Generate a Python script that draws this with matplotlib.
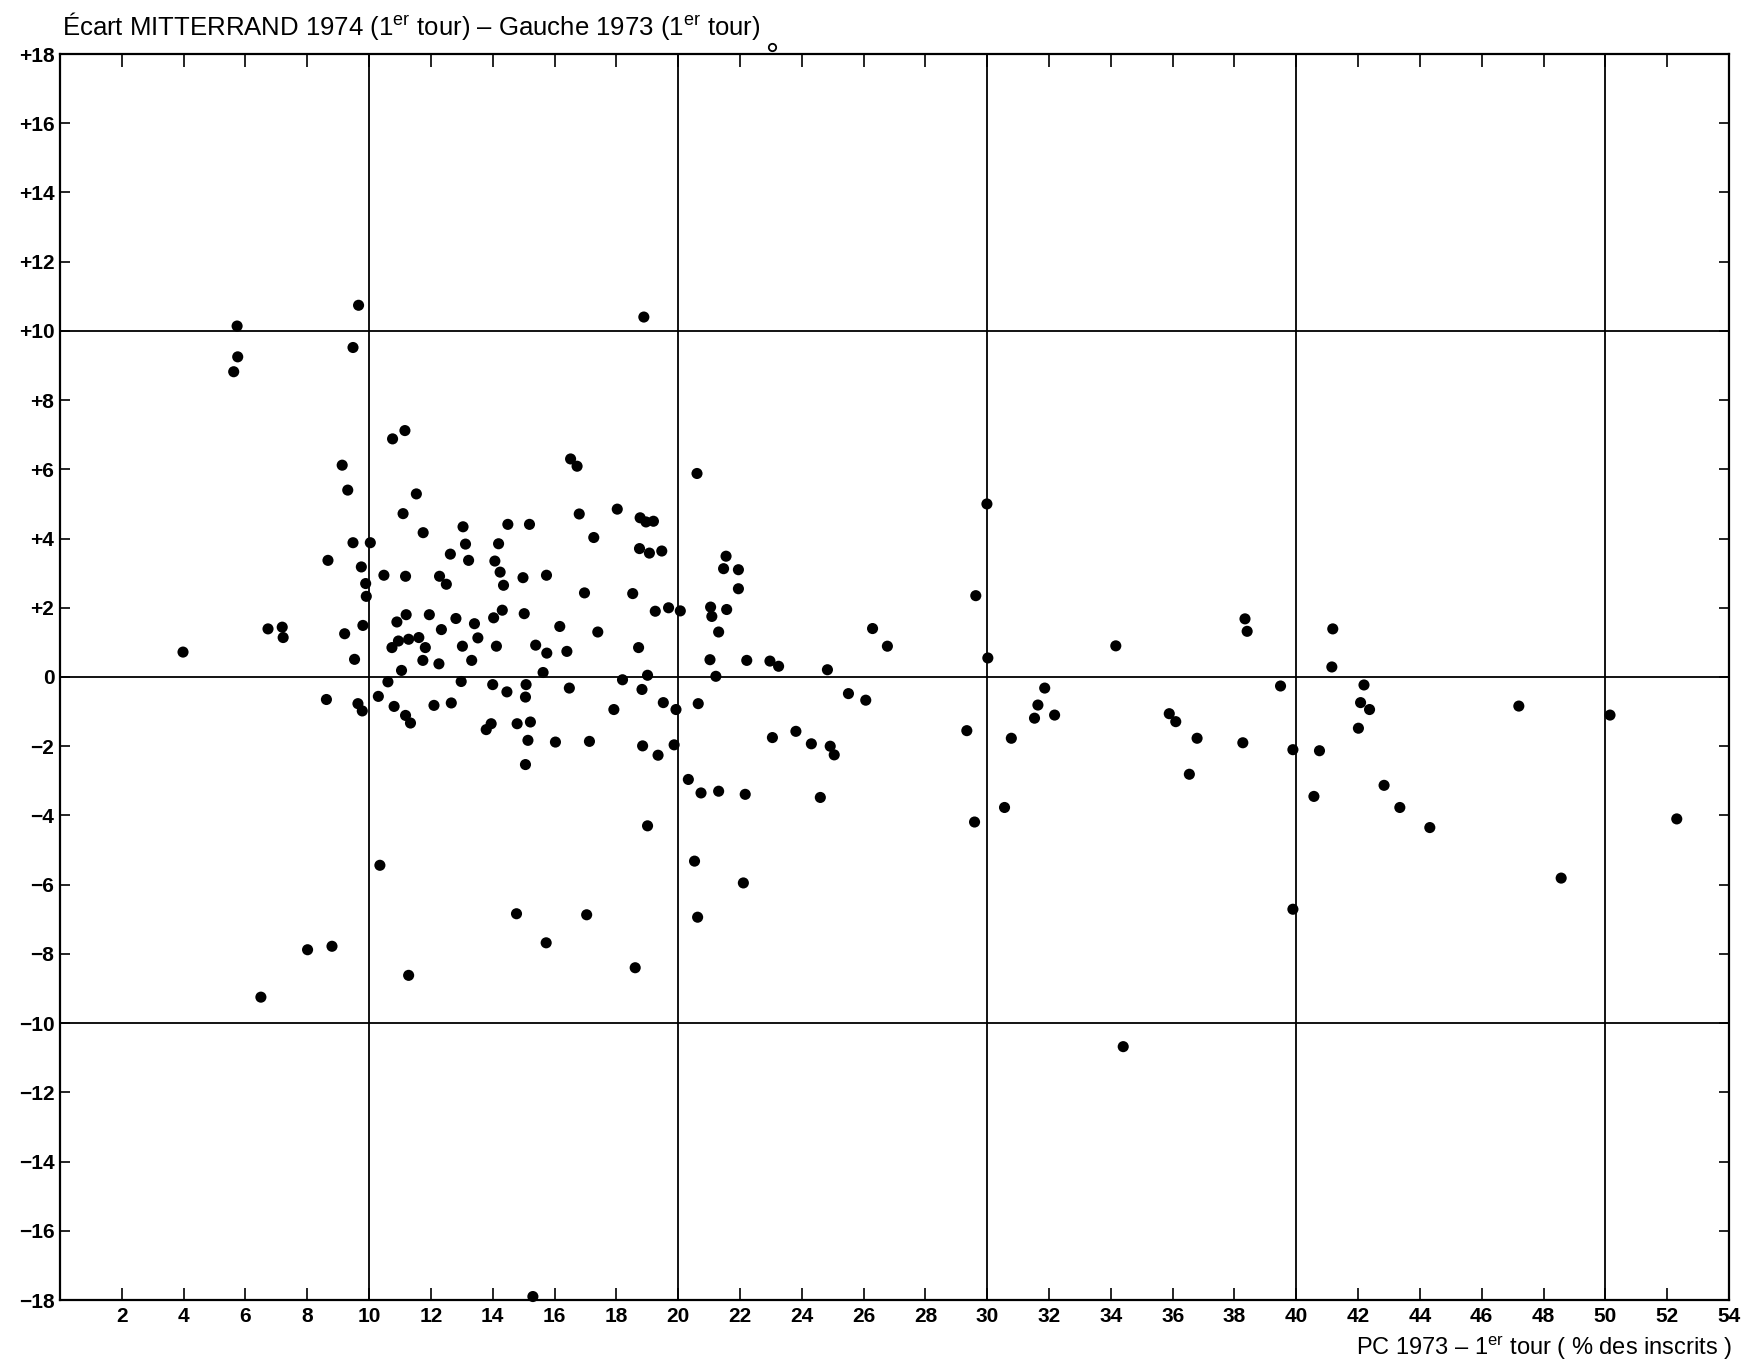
import matplotlib
matplotlib.use("Agg")
import matplotlib.pyplot as plt

plt.rcParams["font.family"] = ["Liberation Sans", "DejaVu Sans"]
plt.rcParams["mathtext.fontset"] = "custom"
plt.rcParams["mathtext.rm"] = "Liberation Sans"
plt.rcParams["mathtext.it"] = "Liberation Sans:italic"
plt.rcParams["mathtext.bf"] = "Liberation Sans:bold"

# PC 1973 (1er tour, % des inscrits) et écart Mitterrand 1974 - Gauche 1973
pc73 = [
    5.73, 5.75, 5.62, 9.66, 9.48, 10.76, 11.16, 9.13, 9.31, 11.53, 11.10, 11.75,
    9.48, 10.04, 13.04, 13.12, 14.49, 15.19, 14.19, 6.73, 7.19, 7.22, 3.98,
    8.67, 9.75, 9.89, 9.91, 9.80, 9.21, 9.53, 10.48, 11.18, 12.63, 13.22, 12.28,
    12.50, 14.07, 14.24, 14.35, 14.98, 15.74, 16.97, 18.53, 18.75, 19.07, 19.47,
    19.26, 19.69, 20.07, 18.72, 21.55, 21.47, 21.95, 21.95, 21.05, 21.09, 21.57,
    21.31, 21.03, 22.22, 10.90, 11.20, 11.95, 12.34, 12.81, 13.41, 13.52, 14.03,
    14.31, 15.02, 14.12, 15.39, 15.75, 16.17, 16.40, 17.40, 10.74, 10.95, 11.28,
    11.61, 11.82, 11.74, 12.26, 13.02, 13.32, 11.05, 21.22,
    10.61, 8.62, 9.64, 9.78, 10.30, 10.81, 11.18, 11.34, 12.10, 12.66, 12.98,
    14.00, 14.46, 15.08, 15.06, 13.79, 13.95, 14.79, 15.22, 15.14, 15.06, 15.63,
    16.48, 16.03, 17.13, 17.92, 18.20, 19.01, 18.83, 19.52, 19.93, 20.65, 18.85,
    19.35, 19.87, 20.33, 20.74, 21.31, 22.17, 19.01, 20.53, 22.11, 20.63, 10.35,
    14.77, 17.04, 15.73,
    16.52, 16.73, 20.61, 16.80, 18.03, 18.77, 18.96, 19.20, 17.27, 26.29, 26.77,
    22.97, 23.25, 24.83, 25.51, 26.07, 23.05, 23.81, 24.31, 24.92,
    18.89, 6.50, 8.01, 8.80, 11.28, 18.61, 15.30, 25.05, 24.60,
    29.34, 29.63, 29.99, 30.02, 29.59, 30.56, 30.78, 31.53, 31.64, 31.86, 32.18,
    34.16, 34.40, 35.89, 36.10, 36.54, 36.79, 38.27, 38.34, 38.41, 39.49, 39.89,
    39.89, 40.57, 40.75, 41.18, 41.15, 42.01, 42.08, 42.19, 42.37, 42.84, 43.35,
    44.32, 47.20, 48.57, 50.15, 52.31,
]
ecart = [
    10.14, 9.25, 8.82, 10.74, 9.52, 6.88, 7.12, 6.12, 5.40, 5.29, 4.72, 4.17,
    3.88, 3.88, 4.34, 3.84, 4.41, 4.41, 3.85, 1.39, 1.44, 1.14, 0.72,
    3.37, 3.18, 2.70, 2.33, 1.49, 1.25, 0.51, 2.94, 2.91, 3.55, 3.37, 2.91,
    2.68, 3.35, 3.03, 2.65, 2.87, 2.94, 2.43, 2.41, 3.71, 3.58, 3.64,
    1.90, 2.00, 1.91, 0.85, 3.49, 3.13, 3.10, 2.55, 2.02, 1.75, 1.95,
    1.30, 0.50, 0.48, 1.59, 1.80, 1.80, 1.37, 1.69, 1.54, 1.13, 1.71,
    1.93, 1.83, 0.89, 0.92, 0.69, 1.46, 0.74, 1.30, 0.85, 1.04, 1.09,
    1.14, 0.85, 0.48, 0.38, 0.89, 0.48, 0.19, 0.02,
    -0.14, -0.65, -0.77, -0.98, -0.56, -0.85, -1.11, -1.33, -0.82, -0.75, -0.13,
    -0.22, -0.43, -0.22, -0.58, -1.52, -1.35, -1.35, -1.30, -1.83, -2.53, 0.13,
    -0.32, -1.88, -1.86, -0.94, -0.08, 0.05, -0.36, -0.74, -0.94, -0.77, -1.99,
    -2.26, -1.96, -2.96, -3.35, -3.30, -3.39, -4.30, -5.32, -5.95, -6.94, -5.44,
    -6.84, -6.87, -7.68,
    6.30, 6.09, 5.88, 4.71, 4.85, 4.60, 4.48, 4.50, 4.03, 1.40, 0.89,
    0.46, 0.31, 0.21, -0.48, -0.67, -1.75, -1.57, -1.93, -2.00,
    10.40, -9.25, -7.88, -7.78, -8.62, -8.40, -17.9, -2.25, -3.48,
    -1.55, 2.35, 5.00, 0.55, -4.19, -3.77, -1.77, -1.19, -0.81, -0.32, -1.10,
    0.90, -10.68, -1.06, -1.29, -2.81, -1.77, -1.90, 1.68, 1.32, -0.26, -2.10,
    -6.71, -3.45, -2.13, 1.39, 0.29, -1.48, -0.74, -0.23, -0.94, -3.13, -3.77,
    -4.35, -0.84, -5.81, -1.10, -4.10,
]

# petit cercle ouvert hors échelle, en haut
hors_x = [23.03]
hors_y = [18.2]

x_ticks = list(range(2, 55, 2))
y_ticks = list(range(-18, 19, 2))
y_labels = ["+%d" % v if v > 0 else ("0" if v == 0 else "\u2212%d" % -v) for v in y_ticks]

W, H = 1743, 1364
fig = plt.figure(figsize=(W / 100, H / 100), dpi=100)
ax = fig.add_axes([60 / W, 1 - 1300 / H, (1729 - 60) / W, (1300 - 54) / H])

# quadrillage principal (tous les 10)
for gx in [10, 20, 30, 40, 50]:
    ax.axvline(gx, color="black", linewidth=1.3, zorder=1)
for gy in [-10, 0, 10]:
    ax.axhline(gy, color="black", linewidth=1.3, zorder=1)

ax.scatter(pc73, ecart, s=64, color="black", edgecolors="none", zorder=3, clip_on=False)
ax.scatter(hors_x, hors_y, s=28, facecolors="white", edgecolors="black",
           linewidths=1.3, zorder=4, clip_on=False)

ax.set_xlim(0, 54)
ax.set_ylim(-18, 18)

ax.set_xticks(x_ticks)
ax.set_xticklabels([str(v) for v in x_ticks])
ax.set_yticks(y_ticks)
ax.set_yticklabels(y_labels)

ax.tick_params(axis="x", direction="in", length=9, width=1.2, top=True,
               labelsize=15, pad=5)
ax.tick_params(axis="y", direction="in", length=7, width=1.2, right=True,
               labelsize=15, pad=4)
for lab in ax.get_xticklabels() + ax.get_yticklabels():
    lab.set_fontweight("bold")

for sp in ax.spines.values():
    sp.set_linewidth(1.6)
    sp.set_color("black")

fig.text(62 / W, 1 - 35 / H,
         "\u00c9cart MITTERRAND 1974 (1$^{\\mathrm{er}}$ tour) \u2013 Gauche 1973 (1$^{\\mathrm{er}}$ tour)",
         fontsize=18.5, ha="left", va="baseline")
fig.text(1732 / W, 1 - 1355 / H,
         "PC 1973 \u2013 1$^{\\mathrm{er}}$ tour ( % des inscrits )",
         fontsize=17, ha="right", va="baseline")

plt.savefig("out.png", dpi=100)
